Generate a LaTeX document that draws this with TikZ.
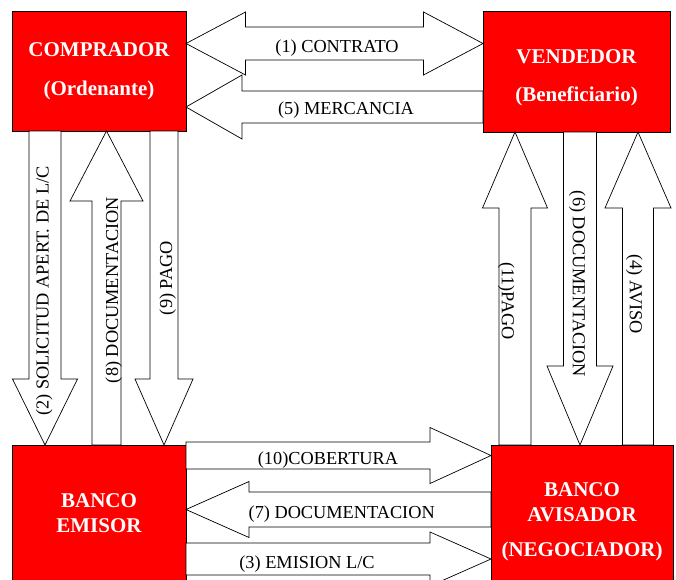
\documentclass[tikz,border=0pt]{standalone}
\usepackage{fontspec}
\setmainfont{Liberation Serif}
\usetikzlibrary{calc,positioning}
\tikzstyle{party}=[
	rectangle,
	draw=black,
	line width=0.8pt,
	fill=red,
	text=white,
	font=\bfseries\fontsize{21}{25}\selectfont,
	align=center,
	outer sep=0pt,
	inner sep=0pt
]
\tikzstyle{flow}=[
	draw=black,
	fill=white,
	line width=0.7pt,
	line join=miter
]
\tikzstyle{tag}=[
	font=\fontsize{18.3}{20}\selectfont,
	text height=12.2pt,
	text depth=0pt,
	inner sep=0pt
]
% block arrow from #1 to #2: shaft half width #3, head half width #4, head length #5
\newcommand{\blockarrow}[5]{%
	\draw[flow] let \p1=(#1), \p2=(#2), \p3=($(\p2)!#5!(\p1)$) in
		($(\p1)!#3!90:(\p2)$) -- ($(\p3)!#3!90:(\p2)$) -- ($(\p3)!#4!90:(\p2)$) -- (\p2)
		-- ($(\p3)!#4!-90:(\p2)$) -- ($(\p3)!#3!-90:(\p2)$) -- ($(\p1)!#3!-90:(\p2)$) -- cycle;}
\newcommand{\twinarrow}[5]{%
	\draw[flow] let \p1=(#1), \p2=(#2), \p3=($(\p2)!#5!(\p1)$), \p4=($(\p1)!#5!(\p2)$) in
		(\p1) -- ($(\p4)!#4!90:(\p2)$) -- ($(\p4)!#3!90:(\p2)$) -- ($(\p3)!#3!90:(\p2)$) -- ($(\p3)!#4!90:(\p2)$) -- (\p2)
		-- ($(\p3)!#4!-90:(\p2)$) -- ($(\p3)!#3!-90:(\p2)$) -- ($(\p4)!#3!-90:(\p2)$) -- ($(\p4)!#4!-90:(\p2)$) -- cycle;}

\begin{document}
\begin{tikzpicture}[x=1pt, y=-1pt]
\useasboundingbox (0,0) rectangle (676,579);
\clip (0,0) rectangle (676,579);

\node [party, minimum width=174pt, minimum height=120pt, font=\bfseries\fontsize{21}{39}\selectfont] (comprador) at (99,71) {COMPRADOR\\(Ordenante)};
\node [party, minimum width=187pt, minimum height=121pt, font=\bfseries\fontsize{21}{38}\selectfont] (vendedor) [right=297pt of comprador.north east, anchor=north west] {\rule{0pt}{26pt}VENDEDOR\\(Beneficiario)};
\node [party, minimum width=174pt, minimum height=136pt] (emisor) [below=314pt of comprador] {BANCO\\EMISOR};
\node [party, minimum width=182pt, minimum height=153pt] (avisador) [right=305pt of emisor.north east, anchor=north west] {BANCO\\AVISADOR\\[10pt](NEGOCIADOR)};

\twinarrow{comprador.east |- 0,43.5}{vendedor.west |- 0,43.5}{16.5pt}{31.5pt}{59.5pt}
\blockarrow{vendedor.west |- 0,107}{comprador.east |- 0,107}{16pt}{32pt}{56pt}
\blockarrow{comprador.south -| 45,0}{emisor.north -| 45,0}{16pt}{32.5pt}{66pt}
\blockarrow{emisor.north -| 106.5,0}{comprador.south -| 106.5,0}{14.5pt}{36.5pt}{70pt}
\blockarrow{comprador.south -| 164,0}{emisor.north -| 164,0}{14pt}{29pt}{66pt}
\blockarrow{avisador.north -| 515,0}{vendedor.south -| 515,0}{16pt}{32.5pt}{76pt}
\blockarrow{vendedor.south -| 580,0}{avisador.north -| 580,0}{16.5pt}{33pt}{79pt}
\blockarrow{avisador.north -| 638,0}{vendedor.south -| 638,0}{15.5pt}{33pt}{76pt}
\blockarrow{emisor.east |- 0,455.5}{avisador.west |- 0,455.5}{13.5pt}{28pt}{61pt}
\blockarrow{avisador.west |- 0,509.5}{emisor.east |- 0,509.5}{17.5pt}{28pt}{63pt}
\blockarrow{emisor.east |- 0,559}{avisador.west |- 0,559}{16pt}{27pt}{61pt}

\node [tag] (tcontrato) at (337,46) {(1) CONTRATO};
\node [tag] (tmercancia) at (346,108.5) {(5) MERCANCIA};
\node [tag, rotate=90] (tsolicitud) at (42.5,291) {(2) SOLICITUD APERT. DE L/C};
\node [tag, rotate=90] (tdocumentos) at (112,290) {(8) DOCUMENTACION};
\node [tag, rotate=90] (tpagoemisor) at (166,278) {(9) PAGO};
\node [tag, rotate=-90] (tpagoaviso) at (508,301) {(11)PAGO};
\node [tag, rotate=-90] (tdocumentacion) at (579,284) {(6) DOCUMENTACION};
\node [tag, rotate=-90] (taviso) at (636,294) {(4) AVISO};
\node [tag] (tcobertura) at (328,458.5) {(10)COBERTURA};
\node [tag] (tdocbanco) at (341.7,512) {(7) DOCUMENTACION};
\node [tag] (temision) at (307,562) {(3) EMISION L/C};
\end{tikzpicture}
\end{document}
